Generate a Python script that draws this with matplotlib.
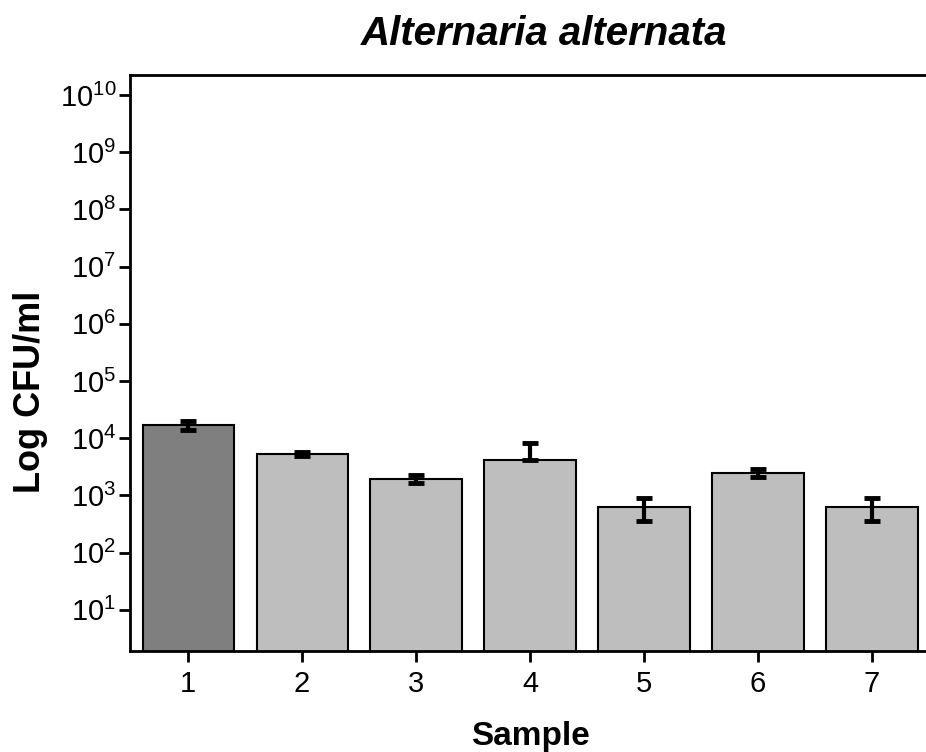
import matplotlib
matplotlib.use("Agg")
import matplotlib.pyplot as plt
from matplotlib.ticker import NullLocator

plt.rcParams['font.family'] = ['Liberation Sans', 'DejaVu Sans']
plt.rcParams['mathtext.fontset'] = 'custom'
plt.rcParams['mathtext.rm'] = 'Liberation Sans'

# data
samples = [1, 2, 3, 4, 5, 6, 7]
cfu = [1.7e4, 5.3e3, 1.95e3, 4.2e3, 630, 2.5e3, 630]
err_low = [3.0e3, 400, 300, 0, 280, 400, 280]
err_high = [3.0e3, 400, 300, 4.1e3, 280, 450, 280]
colors = ['#7f7f7f', '#bebebe', '#bebebe', '#bebebe', '#bebebe', '#bebebe', '#bebebe']

fig = plt.figure(figsize=(9.26, 7.52), dpi=100)
ax = fig.add_axes([0.1404, 0.1343, 0.864, 0.766])

ax.bar(samples, cfu, width=0.8, color=colors, edgecolor='black', linewidth=1.5, zorder=2)
ax.errorbar(samples, cfu, yerr=[err_low, err_high], fmt='none', ecolor='black',
            elinewidth=3, capsize=5.5, capthick=3.5, zorder=3)

ax.set_yscale('log')
ax.set_ylim(10 ** 0.28, 10 ** 10.35)
ax.set_xlim(0.49, 7.51)
ax.set_yticks([10 ** k for k in range(1, 11)])
ax.yaxis.set_minor_locator(NullLocator())
ax.set_xticks(samples)

for side in ['left', 'bottom', 'top']:
    ax.spines[side].set_linewidth(2)
ax.spines['right'].set_visible(False)
ax.tick_params(axis='both', direction='out', length=8, width=2, labelsize=21, pad=6)
ax.tick_params(axis='y', pad=2)
ax.tick_params(top=False)

ax.set_xlabel('Sample', fontsize=24, fontweight='bold', labelpad=16)
fig.text(0.033, 0.479, 'Log CFU/ml', fontsize=26, fontweight='bold',
         rotation=90, ha='center', va='center')
fig.text(0.588, 0.955, 'Alternaria alternata', fontsize=29, fontweight='bold',
         fontstyle='italic', ha='center', va='center')

fig.savefig('out.png', dpi=100)
